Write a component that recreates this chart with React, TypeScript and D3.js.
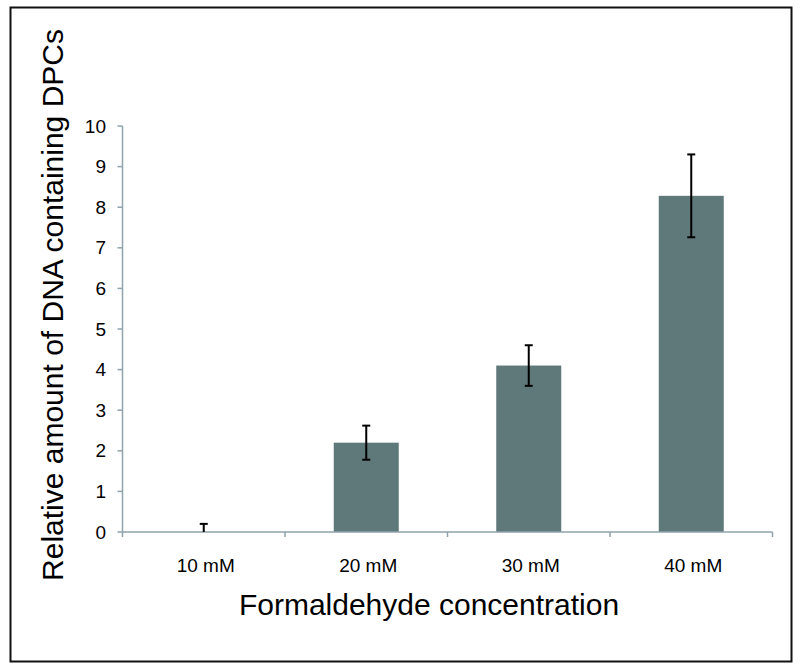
import React from "react";
import * as d3 from "d3";

const categories = ["10 mM", "20 mM", "30 mM", "40 mM"];
const values = [0, 2.2, 4.1, 8.28];
const errors = [0.2, 0.42, 0.5, 1.02];
const yTicks = [0, 1, 2, 3, 4, 5, 6, 7, 8, 9, 10];
const xTitle = "Formaldehyde concentration";
const yTitle = "Relative amount of DNA containing DPCs";

const W = 800;
const H = 668;
const left = 122.5;
const right = 772.5;
const top = 126;
const bottom = 532;

export default function App() {
  const x = d3.scaleBand<string>().domain(categories).range([left, right]).paddingInner(0).paddingOuter(0);
  const y = d3.scaleLinear().domain([0, 10]).range([bottom, top]);
  const bw = x.bandwidth() * 0.4;
  const axisColor = "#8fa3ab";
  const font = "'Liberation Sans', Arial, sans-serif";
  const boundaries = [...categories.map((c) => x(c) as number), right];
  return (
    <svg width={W} height={H} style={{ position: "absolute", left: 0, top: 0 }} fontFamily={font}>
      <rect x={0} y={0} width={W} height={H} fill="#fff" />
      <rect x={10.5} y={7.5} width={781} height={654} fill="none" stroke="#111" strokeWidth={2} />
      {/* bars */}
      {categories.map((c, i) => {
        const cx = (x(c) as number) + x.bandwidth() / 2;
        return (
          <rect key={c} x={cx - bw / 2} y={y(values[i])} width={bw} height={y(0) - y(values[i])} fill="#5f7879" />
        );
      })}
      {/* y axis */}
      <line x1={left} x2={left} y1={top} y2={bottom} stroke={axisColor} strokeWidth={1.5} />
      {yTicks.map((t) => (
        <g key={t}>
          <line x1={left - 5} x2={left} y1={y(t)} y2={y(t)} stroke={axisColor} strokeWidth={1.5} />
          <text x={106} y={y(t)} dy="0.35em" textAnchor="end" fontSize={19} fill="#000">
            {t}
          </text>
        </g>
      ))}
      {/* x axis */}
      <line x1={left} x2={right} y1={bottom} y2={bottom} stroke={axisColor} strokeWidth={1.5} />
      {boundaries.map((b, i) => (
        <line key={i} x1={b} x2={b} y1={bottom} y2={bottom + 5} stroke={axisColor} strokeWidth={1.5} />
      ))}
      {categories.map((c) => (
        <text key={c} x={(x(c) as number) + x.bandwidth() / 2 + 2} y={572} textAnchor="middle" fontSize={19} fill="#000">
          {c}
        </text>
      ))}
      {/* error bars */}
      {categories.map((c, i) => {
        const cx = (x(c) as number) + x.bandwidth() / 2;
        const hi = values[i] + errors[i];
        const lo = Math.max(0, values[i] - errors[i]);
        return (
          <g key={c} stroke="#000" strokeWidth={2}>
            <line x1={cx} x2={cx} y1={y(hi)} y2={y(lo)} />
            <line x1={cx - 4} x2={cx + 4} y1={y(hi)} y2={y(hi)} />
            {values[i] - errors[i] >= 0 && <line x1={cx - 4} x2={cx + 4} y1={y(lo)} y2={y(lo)} />}
          </g>
        );
      })}
      <text x={429} y={615} textAnchor="middle" fontSize={30} fill="#000">
        {xTitle}
      </text>
      <text transform={`translate(63,305) rotate(-90)`} textAnchor="middle" fontSize={30} fill="#000">
        {yTitle}
      </text>
    </svg>
  );
}
